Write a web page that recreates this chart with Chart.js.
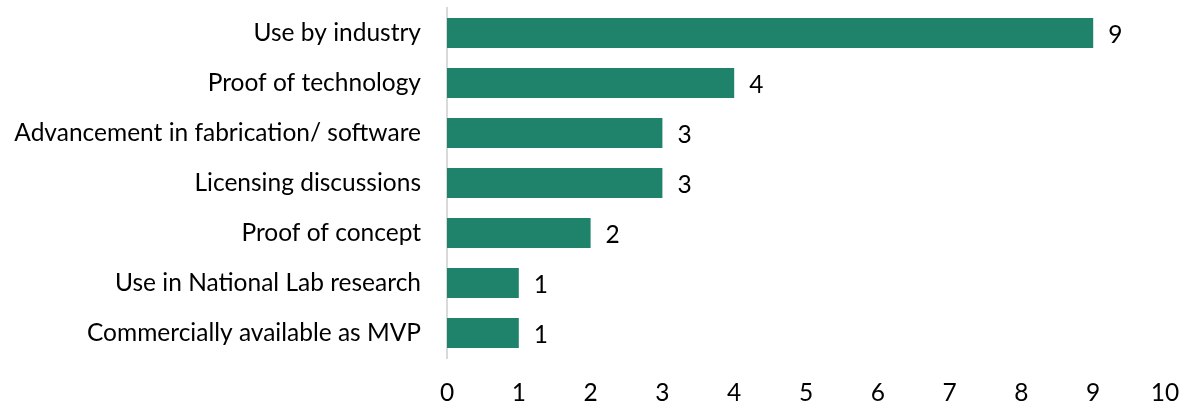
<!DOCTYPE html>
<html>
<head>
<meta charset="utf-8">
<script src="https://cdn.jsdelivr.net/npm/chart.js@4"></script>
<style>
    html, body { margin: 0; padding: 0; background: #ffffff; }
    #wrap { width: 1188px; height: 404px; }
</style>
</head>
<body>
<div id="wrap"><canvas id="outcomes-chart"></canvas></div>
<script>
// Outcome categories and counts
const categories = [
    'Use by industry',
    'Proof of technology',
    'Advancement in fabrication/ software',
    'Licensing discussions',
    'Proof of concept',
    'Use in National Lab research',
    'Commercially available as MVP'
];
const counts = [9, 4, 3, 3, 2, 1, 1];
const xTicks = [0, 1, 2, 3, 4, 5, 6, 7, 8, 9, 10];

const FONT = "Lato, 'Open Sans', sans-serif";
const FONT_SIZE = 24.5;

// Draw the count to the right of each bar
const valueLabels = {
    id: 'valueLabels',
    afterDatasetsDraw(chart) {
        const ctx = chart.ctx;
        const meta = chart.getDatasetMeta(0);
        ctx.save();
        ctx.font = `${FONT_SIZE}px ${FONT}`;
        ctx.fillStyle = '#000000';
        ctx.textAlign = 'left';
        ctx.textBaseline = 'middle';
        meta.data.forEach((bar, i) => {
            ctx.fillText(String(counts[i]), bar.x + 15, bar.y + 2);
        });
        ctx.restore();
    }
};

Chart.defaults.font.family = FONT;
Chart.defaults.color = '#000000';

const ctx = document.getElementById('outcomes-chart').getContext('2d');
new Chart(ctx, {
    type: 'bar',
    data: {
        labels: categories,
        datasets: [{
            data: counts,
            backgroundColor: '#1f826a',
            borderWidth: 0,
            barPercentage: 0.6,
            categoryPercentage: 1.0
        }]
    },
    options: {
        indexAxis: 'y',
        responsive: true,
        maintainAspectRatio: false,
        animation: false,
        layout: { padding: { top: 8, right: 23, bottom: 0, left: 0 } },
        plugins: {
            legend: { display: false },
            tooltip: { enabled: false }
        },
        scales: {
            x: {
                min: 0,
                max: 10,
                afterBuildTicks: (scale) => {
                    scale.ticks = xTicks.map(v => ({ value: v }));
                },
                afterFit: (scale) => {
                    scale.height = 46;
                    // let layout padding alone decide the right edge
                    scale.paddingLeft = 0;
                    scale.paddingRight = 0;
                },
                grid: { display: false, drawTicks: false },
                border: { display: false },
                ticks: { font: { size: FONT_SIZE }, padding: 20, maxRotation: 0 }
            },
            y: {
                afterFit: (scale) => {
                    scale.width = 447;
                    // keep the tick padding from pushing the plot area down
                    scale.paddingTop = 0;
                    scale.paddingBottom = 0;
                },
                grid: { display: false, drawTicks: false },
                border: { display: true, color: '#d9d9d9', width: 2 },
                ticks: { font: { size: FONT_SIZE }, padding: 26 }
            }
        }
    },
    plugins: [valueLabels]
});
</script>
</body>
</html>
